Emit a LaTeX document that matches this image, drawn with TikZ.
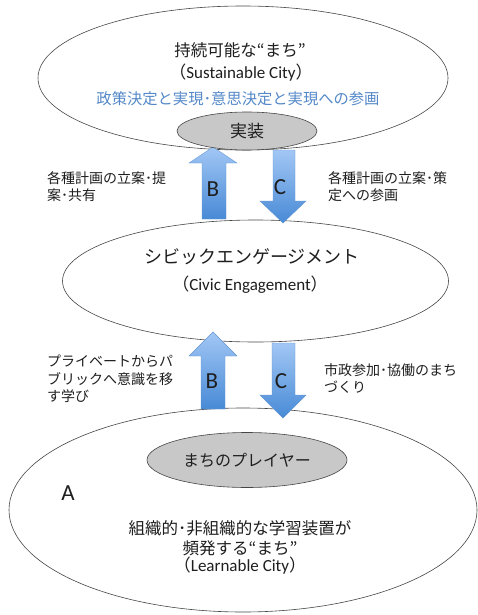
\documentclass[tikz,border=0pt]{standalone}
\usepackage{fontspec}
\setmainfont{Carlito}
\newfontfamily\cjk{Noto Sans CJK JP}
\usetikzlibrary{shapes.geometric}
\definecolor{txt}{RGB}{30,30,30}
\definecolor{bluetxt}{RGB}{84,136,200}
\definecolor{arrtop}{RGB}{162,199,245}
\definecolor{arrbot}{RGB}{72,138,214}
\definecolor{arredge}{RGB}{100,150,210}
\definecolor{grayfill}{RGB}{200,200,200}
\definecolor{line}{RGB}{70,70,70}
\tikzset{
  bigell/.style={ellipse, draw=line, line width=0.6pt, fill=white, inner sep=0pt},
  grayell/.style={ellipse, draw=line, line width=0.6pt, fill=grayfill, inner sep=0pt, text=txt},
  blockarrow/.style={top color=arrtop, bottom color=arrbot, draw=arredge, line width=0.4pt},
  lbl/.style={text=txt, inner sep=0pt, align=left, font=\cjk\fontsize{14}{17.5}\selectfont},
  letter/.style={text=txt, inner sep=0pt, font=\fontsize{23}{23}\selectfont},
}
\begin{document}
\begin{tikzpicture}[x=1pt,y=-1pt]
\useasboundingbox (0,0) rectangle (478,615);
% ellipses
\node[bigell, minimum width=410pt, minimum height=144pt] (top) at (243,78) {};
% upper B arrow lies under the gray ellipse
\shadedraw[blockarrow] (213,147) -- (237,163) -- (226,163) -- (226,219) -- (202,219) -- (202,163) -- (189,163) -- cycle;
\node[grayell, minimum width=140pt, minimum height=38pt, font=\cjk\fontsize{17}{17}\selectfont] (jisso) at (247,131) {実装};
\node[bigell, minimum width=386pt, minimum height=122pt] (mid) at (255.5,281) {};
\node[bigell, minimum width=468pt, minimum height=204pt] (bot) at (243,510) {};
\node[grayell, minimum width=200pt, minimum height=55pt, font=\cjk\fontsize{16}{16}\selectfont] (player) at (247,460) {まちのプレイヤー};
% texts in top ellipse
\node[text=txt, font=\cjk\fontsize{16.5}{16.5}\selectfont] (t1) at (240,50) {持続可能な“まち”};
\node[text=txt, font=\fontsize{17}{17}\selectfont] (t2) at (241,73) {{\cjk （}Sustainable City{\cjk ）}};
\node[text=bluetxt, font=\cjk\fontsize{15.3}{15.3}\selectfont] (t3) at (238,99) {政策決定と実現･意思決定と実現への参画};
% middle texts
\node[text=txt, font=\cjk\fontsize{18}{18}\selectfont] (m1) at (252,257) {シビックエンゲージメント};
\node[text=txt, font=\fontsize{17}{17}\selectfont] (m2) at (250,285) {{\cjk （}Civic Engagement{\cjk ）}};
% bottom texts
\node[letter] (A) at (68,493) {A};
\node[text=txt, font=\cjk\fontsize{16.5}{16.5}\selectfont] (b1) at (240,528) {組織的･非組織的な学習装置が};
\node[text=txt, font=\cjk\fontsize{16.5}{16.5}\selectfont] (b2) at (240,548) {頻発する“まち”};
\node[text=txt, font=\fontsize{17}{17}\selectfont] (b3) at (240,566) {{\cjk （}Learnable City{\cjk ）}};
% side labels
\node[lbl, anchor=north west] (l1) at (47,171) {各種計画の立案･提\\案･共有};
\node[lbl, anchor=north west] (r1) at (328,171) {各種計画の立案･策\\定への参画};
\node[lbl, anchor=north west] (l2) at (47,355) {プライベートからパ\\ブリックへ意識を移\\す学び};
\node[lbl, anchor=north west] (r2) at (324,363) {市政参加･協働のまち\\づくり};
% block arrows
\shadedraw[blockarrow] (273,150) -- (295,150) -- (295,201) -- (306,201) -- (283,223) -- (260,201) -- (273,201) -- cycle;
\shadedraw[blockarrow] (213,332) -- (237,356) -- (225,356) -- (225,409) -- (201,409) -- (201,356) -- (189,356) -- cycle;
\shadedraw[blockarrow] (272,343) -- (295,343) -- (295,395) -- (306,395) -- (283,418) -- (260,395) -- (272,395) -- cycle;
% arrow letters
\node[letter] (B1) at (213,189) {B};
\node[letter] (C1) at (280,187) {C};
\node[letter] (B2) at (212,381) {B};
\node[letter] (C2) at (281,381) {C};
\end{tikzpicture}
\end{document}
